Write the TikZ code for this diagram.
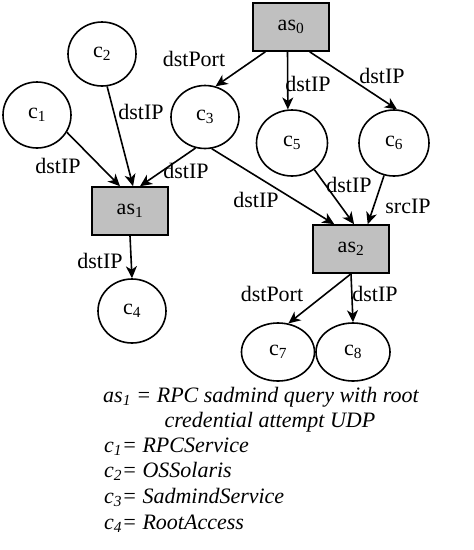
\documentclass[tikz,border=0pt]{standalone}
\usepackage{fontspec}
\setmainfont{Liberation Serif}
\usepackage{tikz}
\usetikzlibrary{arrows.meta,shapes.geometric}
\definecolor{boxgray}{RGB}{192,192,192}
\newcommand{\bigtext}{\fontsize{22}{26}\selectfont}
\tikzset{
  box/.style={rectangle, draw, line width=1.6pt, fill=boxgray, minimum width=76pt, minimum height=48pt, inner sep=0pt},
  cnode/.style={ellipse, draw, line width=1.6pt, minimum width=68pt, minimum height=64pt, inner sep=0pt},
  edge/.style={line width=1.6pt, >={Stealth[length=12pt,width=11pt,inset=3.5pt]}, ->},
  lbl/.style={anchor=base, inner sep=0pt},
  legend/.style={anchor=base west, inner sep=0pt, font=\bigtext\itshape}
}

\begin{document}
\begin{tikzpicture}[x=1pt, y=-1pt, font=\bigtext]
%\draw [help lines] grid (474,550);
\useasboundingbox (0,0) rectangle (474,550);
\node[box] (as0) at (291,27) {as\textsubscript{0}};
\node[box] (as1) at (130,211) {as\textsubscript{1}};
\node[box] (as2) at (351,249) {as\textsubscript{2}};
\node[cnode, minimum height=66pt] (c1) at (37,115) {c\textsubscript{1}};
\node[cnode] (c2) at (102,54) {c\textsubscript{2}};
\node[cnode, minimum height=63pt] (c3) at (205,117) {c\textsubscript{3}};
\node[cnode] (c4) at (132,311) {c\textsubscript{4}};
\node[cnode, minimum width=71pt, minimum height=66pt] (c5) at (292,143) {c\textsubscript{5}};
\node[cnode, minimum width=70pt, minimum height=66pt] (c6) at (394,143) {c\textsubscript{6}};
\node[cnode, minimum width=73pt, minimum height=58pt] (c7) at (278,352) {c\textsubscript{7}};
\node[cnode, minimum width=74pt, minimum height=58pt] (c8) at (353,352) {c\textsubscript{8}};

\draw[edge] (as0.224) -- (c3.71);
\draw[edge] (as0.262) -- (c5.97);
\draw[edge] (as0.307) -- (c6.85);
\draw[edge] (c1.330) -- (as1.112);
\draw[edge] (c2.279) -- (as1.83);
\draw[edge] (c3.253) -- (as1.68);
\draw[edge] (c3.282) -- (as2.124);
\draw[edge] (c5.310) -- (as2.83);
\draw[edge] (c6.253) -- (as2.56);
\draw[edge] (as1.south) -- (c4.north);
\draw[edge] (as2.south) -- (c7.70);
\draw[edge] (as2.south) -- (c8.north);

\node[lbl] (l03) at (194,66) {dstPort};
\node[lbl] (l05) at (308,91) {dstIP};
\node[lbl] (l06) at (382,83) {dstIP};
\node[lbl] (l21) at (141,119) {dstIP};
\node[lbl] (l11) at (58,173) {dstIP};
\node[lbl] (l31) at (186,178) {dstIP};
\node[lbl] (l32) at (256,207) {dstIP};
\node[lbl] (l52) at (349,192) {dstIP};
\node[lbl] (l62) at (408,213) {srcIP};
\node[lbl] (l14) at (100,268) {dstIP};
\node[lbl] (l27) at (272,301) {dstPort};
\node[lbl] (l28) at (375,301) {dstIP};

\node[legend] (leg1) at (103,402) {as\textsubscript{1} = RPC sadmind query with root};
\node[legend, anchor=base] (leg2) at (270,427) {credential attempt UDP};
\node[legend] (leg3) at (104,452) {c\textsubscript{1}= RPCService};
\node[legend] (leg4) at (104,477) {c\textsubscript{2}= OSSolaris};
\node[legend] (leg5) at (104,503) {c\textsubscript{3}= SadmindService};
\node[legend] (leg6) at (104,529) {c\textsubscript{4}= RootAccess};

\end{tikzpicture}
\end{document}
